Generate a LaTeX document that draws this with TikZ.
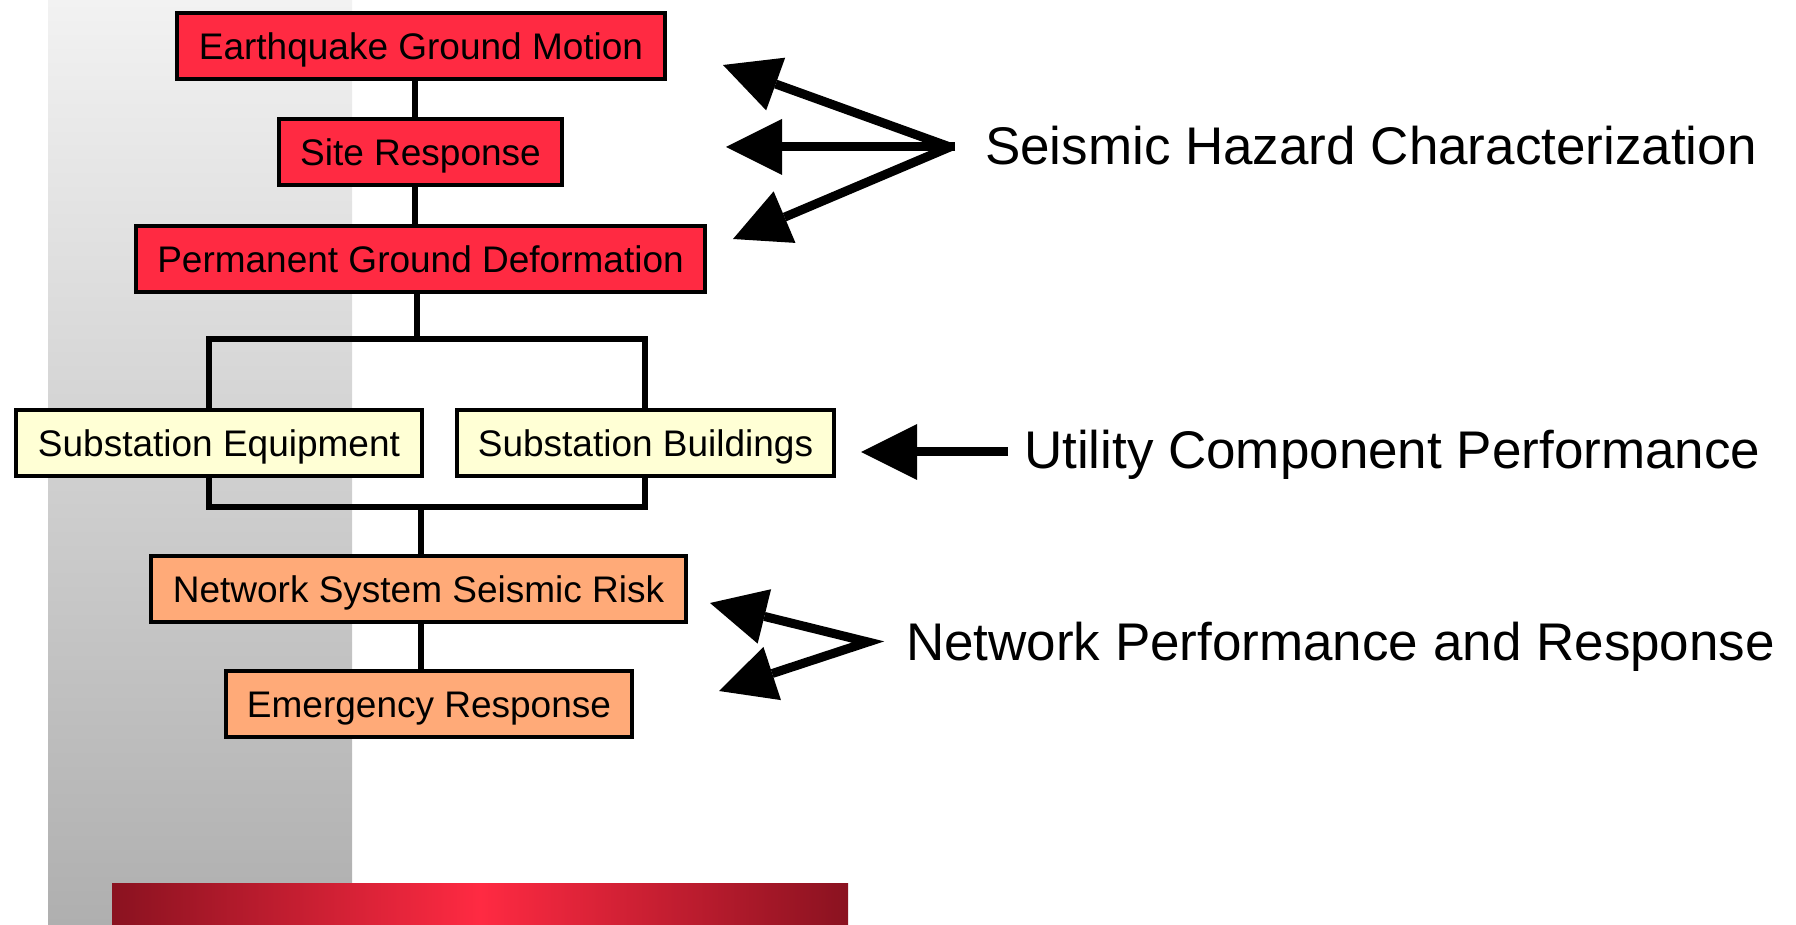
\documentclass[tikz,border=0pt]{standalone}
\usepackage{fontspec}
\setmainfont{Liberation Sans}
\usetikzlibrary{arrows.meta,calc}
\definecolor{boxred}{HTML}{FF2A42}
\definecolor{boxyellow}{HTML}{FFFFD5}
\definecolor{boxorange}{HTML}{FFAA78}
\definecolor{bardark}{HTML}{8A1220}
\definecolor{barbright}{HTML}{FF2A42}
\definecolor{paneltop}{HTML}{F2F2F2}
\definecolor{panelbot}{HTML}{AFAFAF}
\tikzset{
  box/.style={draw=black, line width=2pt, inner sep=0pt, outer sep=0pt,
    minimum height=33pt, text height=13.25pt, text depth=0pt,
    font=\fontsize{18.5}{22}\selectfont, text=black},
  redbox/.style={box, fill=boxred},
  yellowbox/.style={box, fill=boxyellow},
  orangebox/.style={box, fill=boxorange},
  link/.style={line width=2.6pt, line join=miter},
  bigtip/.tip={Triangle[length=28pt,width=28pt,line width=0pt]},
  bigarrow/.style={line width=4.5pt, -bigtip},
  twoarrow/.style={line width=4.5pt, bigtip-bigtip},
  sidelabel/.style={anchor=base west, inner sep=0pt, outer sep=0pt,
    font=\fontsize{26.5}{32}\selectfont}
}
\begin{document}
\begin{tikzpicture}[x=0.5pt,y=-0.5pt]
\useasboundingbox (0,0) rectangle (1796,925);
% background panel and bar
\shade[top color=paneltop, bottom color=panelbot] (48,0) rectangle (352,925);
\shade[left color=bardark, right color=bardark, middle color=barbright] (112,883) rectangle (848,925);

% boxes
\node[redbox, minimum width=244pt] (eq) at (421,46) {Earthquake Ground Motion};
\node[redbox, minimum width=141.5pt] (site) at (420.5,152.5) {Site Response};
\node[redbox, minimum width=284.5pt] (pgd) at (420.5,259) {Permanent Ground Deformation};
\node[yellowbox, minimum width=203pt] (se) at (219,443) {Substation Equipment};
\node[yellowbox, minimum width=188.5pt] (sb) at (645.5,443) {Substation Buildings};
\node[orangebox, minimum width=267.5pt] (nsr) at (418.5,589) {Network System Seismic Risk};
\node[orangebox, minimum width=203pt] (er) at (429,704) {Emergency Response};

% connector helper coordinates
\coordinate (spine) at (415,0);
\coordinate (pgdx) at (417,0);
\coordinate (topL) at (209,339);
\coordinate (topR) at (645,339);
\coordinate (topM) at (417,339);
\coordinate (botL) at (209,507);
\coordinate (botR) at (645,507);
\coordinate (botM) at (421,507);

\draw[link] (eq.south -| spine) -- (site.north -| spine);
\draw[link] (site.south -| spine) -- (pgd.north -| spine);
\draw[link] (pgd.south -| pgdx) -- (topM);
\draw[link] (se.north -| topL) -- (topL) -- (topR) -- (sb.north -| topR);
\draw[link] (se.south -| botL) -- (botL) -- (botR) -- (sb.south -| botR);
\draw[link] (botM) -- (nsr.north -| botM);
\draw[link] (nsr.south -| botM) -- (er.north -| botM);

% side labels
\node[sidelabel] (shc) at (985,165) {Seismic Hazard Characterization};
\node[sidelabel] (ucp) at (1024,469) {Utility Component Performance};
\node[sidelabel] (npr) at (906,660) {Network Performance and Response};

% arrows
\coordinate (s0) at (950,147);
\coordinate (s0m) at (955,147);
\coordinate (s1) at (723,65);
\coordinate (s2) at (726,147);
\coordinate (s3) at (733,239);
\draw[twoarrow, line join=bevel] (s1) -- (s0) -- (s3);
\draw[bigarrow] (s0m) -- (s2);

\coordinate (u0) at (1008,452);
\coordinate (u1) at (861,452);
\draw[bigarrow] (u0) -- (u1);

\coordinate (n0) at (868,642);
\coordinate (n1) at (710,603);
\coordinate (n2) at (719,691);
\draw[twoarrow, line join=miter] (n1) -- (n0) -- (n2);
\end{tikzpicture}
\end{document}
